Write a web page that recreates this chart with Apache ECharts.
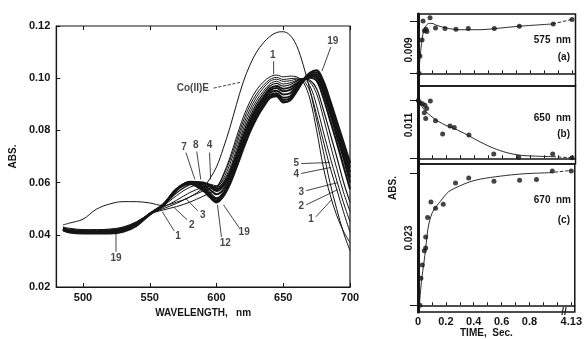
<!DOCTYPE html>
<html>
<head>
<meta charset="utf-8">
<script src="https://cdn.jsdelivr.net/npm/echarts@6/dist/echarts.min.js"></script>
<style>
  html, body { margin: 0; padding: 0; background: #fff; }
  #chart { width: 585px; height: 339px; }
</style>
</head>
<body>
<div id="chart"></div>
<script>
// wavelengths (nm) sampled for every spectrum
const WAVE = [485, 490, 500, 510, 520, 530, 540, 550, 560, 570, 580, 590, 595, 600,
  605, 610, 615, 620, 625, 630, 635, 640, 645, 650, 655, 660, 665, 670, 675, 680, 685, 690, 695, 700];

// absorbance spectra
const CO_E = [.0438, .0445, .0460, .0498, .0518, .0527, .0527, .0522, .0512, .0525, .0545, .0580, .0615, .0660,
  .0730, .0810, .0900, .0985, .1050, .1100, .1135, .1160, .1175, .1178, .1165, .1125, .1050, .0955, .0840, .0720, .0600, .0500, .0410, .0340];
const SPEC_1 = [.0430, .0425, .0420, .0420, .0422, .0430, .0450, .0480, .0495, .0508, .0525, .0548, .0560, .0578,
  .0630, .0695, .0775, .0850, .0910, .0955, .0985, .1005, .1012, .1005, .1008, .1005, .0985, .0920, .0800, .0660, .0555, .0475, .0415, .0370];
const SPEC_2 = [.0428, .0422, .0418, .0418, .0420, .0428, .0448, .0480, .0500, .0520, .0545, .0568, .0578, .0585,
  .0625, .0685, .0760, .0835, .0895, .0940, .0972, .0995, .1003, .0995, .0998, .1000, .0992, .0950, .0860, .0760, .0660, .0575, .0490, .0410];
const SPEC_3 = [.0428, .0420, .0416, .0416, .0418, .0426, .0446, .0480, .0505, .0532, .0562, .0582, .0585, .0585,
  .0615, .0670, .0745, .0820, .0880, .0928, .0962, .0988, .0996, .0988, .0990, .0996, .0996, .0970, .0895, .0795, .0700, .0610, .0525, .0450];
const SPEC_4 = [.0426, .0418, .0414, .0414, .0416, .0424, .0444, .0480, .0510, .0550, .0582, .0595, .0594, .0588,
  .0608, .0655, .0728, .0805, .0866, .0915, .0950, .0978, .0988, .0978, .0982, .0992, .0998, .0985, .0940, .0850, .0750, .0655, .0565, .0490];
const SPEC_5 = [.0425, .0417, .0413, .0413, .0415, .0423, .0443, .0480, .0512, .0560, .0592, .0598, .0592, .0582,
  .0600, .0645, .0715, .0790, .0852, .0903, .0940, .0970, .0980, .0970, .0975, .0988, .0998, .0992, .0960, .0880, .0790, .0700, .0605, .0525];
const SPEC_7 = [.0424, .0415, .0412, .0412, .0414, .0422, .0442, .0480, .0515, .0570, .0602, .0600, .0590, .0575,
  .0592, .0635, .0702, .0775, .0838, .0890, .0928, .0960, .0970, .0960, .0965, .0980, .0995, .1002, .0990, .0925, .0840, .0755, .0665, .0575];
const SPEC_8 = [.0423, .0414, .0411, .0411, .0413, .0421, .0441, .0480, .0515, .0572, .0603, .0598, .0585, .0568,
  .0585, .0627, .0693, .0765, .0828, .0880, .0918, .0952, .0962, .0950, .0955, .0975, .0995, .1008, .1000, .0945, .0865, .0780, .0695, .0600];
const SPEC_10 = [.0422, .0413, .0411, .0411, .0413, .0420, .0441, .0480, .0515, .0573, .0602, .0592, .0573, .0555,
  .0572, .0616, .0682, .0755, .0820, .0872, .0910, .0944, .0952, .0938, .0942, .0968, .0995, .1012, .1008, .0955, .0878, .0795, .0712, .0620];
const SPEC_12 = [.0420, .0412, .0410, .0410, .0412, .0418, .0440, .0480, .0515, .0575, .0600, .0585, .0560, .0540,
  .0560, .0605, .0672, .0745, .0810, .0862, .0900, .0935, .0942, .0925, .0930, .0960, .0995, .1015, .1015, .0965, .0890, .0810, .0730, .0640];
const SPEC_15 = [.0419, .0411, .0408, .0408, .0409, .0415, .0437, .0479, .0513, .0574, .0598, .0578, .0552, .0532,
  .0554, .0600, .0666, .0738, .0802, .0855, .0895, .0930, .0937, .0916, .0922, .0955, .0992, .1018, .1022, .0976, .0902, .0822, .0742, .0658];
const SPEC_19 = [.0418, .0410, .0406, .0406, .0406, .0412, .0435, .0478, .0512, .0572, .0595, .0570, .0545, .0525,
  .0548, .0595, .0660, .0730, .0795, .0848, .0890, .0925, .0932, .0908, .0915, .0950, .0990, .1020, .1030, .0988, .0915, .0835, .0755, .0675];

// right hand kinetics (time in s, change of absorbance)
const TIME_A = [0.007, 0.014, 0.029, 0.036, 0.046, 0.057, 0.064, 0.086, 0.125, 0.193, 0.271, 0.359, 0.545, 0.724, 0.966, 4.13];
const ABS_A = [0.0, 0.0030, 0.0058, 0.0091, 0.0074, 0.0077, 0.0073, 0.0097, 0.0079, 0.0078, 0.0077, 0.0078, 0.0078, 0.0082, 0.0086, 0.0094];
const FIT_A_T = [0.005, 0.015, 0.025, 0.035, 0.045, 0.06, 0.08, 0.1, 0.13, 0.2, 0.3, 0.45, 0.55, 0.72, 0.96, 4.13];
const FIT_A = [0.0, 0.0028, 0.0052, 0.0068, 0.0078, 0.0084, 0.0087, 0.0087, 0.0084, 0.0079, 0.0076, 0.0076, 0.0078, 0.0082, 0.0086, 0.0094];

const TIME_B = [0.002, 0.014, 0.031, 0.045, 0.050, 0.055, 0.062, 0.088, 0.125, 0.176, 0.229, 0.259, 0.364, 0.541, 0.719, 0.962, 4.13];
const ABS_B = [0.0109, 0.0105, 0.0103, 0.0086, 0.0100, 0.0075, 0.0094, 0.0108, 0.0071, 0.0046, 0.0061, 0.0058, 0.0044, 0.0008, 0.0002, 0.0008, 0.0001];
const FIT_B_T = [0, 0.05, 0.1, 0.15, 0.2, 0.26, 0.3, 0.36, 0.45, 0.54, 0.63, 0.72, 0.84, 0.96, 4.13];
const FIT_B = [0.0108, 0.0090, 0.0078, 0.0069, 0.0062, 0.0056, 0.0051, 0.0043, 0.0030, 0.0019, 0.0011, 0.0006, 0.0004, 0.0003, 0.0001];

const TIME_C = [0.014, 0.021, 0.031, 0.045, 0.055, 0.055, 0.069, 0.093, 0.126, 0.181, 0.269, 0.364, 0.545, 0.729, 0.85, 0.964, 4.13];
const ABS_C = [0.0, 0.0047, 0.0070, 0.0095, 0.0100, 0.0119, 0.0153, 0.0180, 0.0169, 0.0176, 0.0213, 0.0222, 0.0216, 0.0218, 0.0219, 0.0234, 0.0234];
const FIT_C_T = [0.01, 0.02, 0.03, 0.045, 0.06, 0.075, 0.1, 0.13, 0.16, 0.22, 0.3, 0.37, 0.45, 0.59, 0.75, 0.94, 4.13];
const FIT_C = [0.0, 0.0030, 0.0052, 0.0079, 0.0110, 0.0138, 0.0160, 0.0172, 0.0181, 0.0198, 0.0208, 0.0215, 0.0220, 0.0225, 0.0229, 0.0231, 0.0235];

const TIME_LABELS = ['0', '0.2', '0.4', '0.6', '0.8', '4.13'];

const INK = '#151515';
const FONT = 'Liberation Sans';
const BREAK_POS = 1.1;   // where 4.13 s sits on the broken time axis
const pos = t => (t > 2 ? BREAK_POS : t);

const chart = echarts.init(document.getElementById('chart'));

const specSeries = [
  ['Co(II)E', CO_E, 1], ['1', SPEC_1, 1], ['2', SPEC_2, 1], ['3', SPEC_3, 1], ['4', SPEC_4, 1], ['5', SPEC_5, 1.2],
  ['7', SPEC_7, 2], ['8', SPEC_8, 2], ['10', SPEC_10, 2], ['12', SPEC_12, 2], ['15', SPEC_15, 2], ['19', SPEC_19, 2.4]
].map(([name, vals, w]) => ({
  name, type: 'line', xAxisIndex: 0, yAxisIndex: 0, symbol: 'none', smooth: 0.35,
  data: WAVE.map((x, i) => [x, vals[i]]),
  lineStyle: { color: INK, width: w }, z: 3
}));

// callouts for the spectra: [text, textX, textY, fromX, fromY, toX, toY]
const CALLOUTS = [
  ['1', 642.1, .1088, 642.8, .1065, 642.8, .1015],
  ['Co(II)E', 582.3, .0962, 597.8, .0962, 618.5, .0985],
  ['7', 575.6, .0735, 577.1, .0715, 583.8, .0612],
  ['8', 584.5, .0742, 585.2, .0719, 588.2, .0612],
  ['4', 594.8, .0742, 594.8, .0715, 595.6, .0612],
  ['3', 589.7, .0473, 586.0, .0492, 576.4, .0542],
  ['2', 581.5, .0438, 577.9, .0458, 568.3, .0504],
  ['1', 571.2, .0396, 568.3, .0415, 559.4, .0488],
  ['12', 606.6, .0369, 603.7, .0392, 600.7, .0515],
  ['19', 620.7, .0408, 617.0, .0427, 605.2, .0515],
  ['19', 524.7, .0312, 524.7, .0335, 524.7, .0404],
  ['19', 687.1, .1142, 685.6, .1119, 679.0, .1027],
  ['5', 659.8, .0673, 663.5, .0673, 684.9, .0677],
  ['4', 659.8, .0631, 663.5, .0635, 685.6, .0658],
  ['3', 663.5, .0562, 667.2, .0569, 690.8, .0600],
  ['2', 663.5, .0508, 667.2, .0515, 690.8, .0573],
  ['1', 670.8, .0458, 674.5, .0469, 686.3, .0535]
];

const calloutSeries = CALLOUTS.map(c => ({
  type: 'line', xAxisIndex: 0, yAxisIndex: 0, symbol: 'none', z: 4, silent: true,
  data: [[c[3], c[4]], [c[5], c[6]]],
  lineStyle: { color: INK, width: 0.8, type: c[0] === 'Co(II)E' ? 'dashed' : 'solid' }
}));
calloutSeries.push({
  type: 'scatter', xAxisIndex: 0, yAxisIndex: 0, symbolSize: 1, z: 5, silent: true,
  itemStyle: { color: 'rgba(0,0,0,0)' },
  data: CALLOUTS.map(c => ({ name: c[0], value: [c[1], c[2]] })),
  label: { show: true, position: 'inside', formatter: '{b}', color: INK,
    fontFamily: FONT, fontWeight: 'bold', fontSize: 10 }
});

// kinetic panels
const panels = [
  { t: TIME_A, a: ABS_A, ft: FIT_A_T, f: FIT_A, top: 14, h: 72, min: -0.00221, max: 0.01034, bar: 0.009, name: '0.009' },
  { t: TIME_B, a: ABS_B, ft: FIT_B_T, f: FIT_B, top: 86, h: 78, min: -0.00108, max: 0.01364, bar: 0.011, name: '0.011' },
  { t: TIME_C, a: ABS_C, ft: FIT_C_T, f: FIT_C, top: 164, h: 148, min: -0.00117, max: 0.02462, bar: 0.023, name: '0.023' }
];

const grids = [{ left: 53, top: 26, width: 297, height: 261, show: true, borderColor: INK, borderWidth: 1.2 }];
const xAxes = [
  {
    type: 'value', gridIndex: 0, min: 480, max: 700,
    axisLine: { lineStyle: { color: INK, width: 1.2 } },
    axisTick: { inside: true, length: 4, customValues: [500, 550, 600, 650, 700], lineStyle: { color: INK } },
    axisLabel: { customValues: [500, 550, 600, 650, 700], color: INK, fontFamily: FONT, fontWeight: 'bold', fontSize: 11, margin: 5 },
    splitLine: { show: false },
    name: 'WAVELENGTH,   nm', nameLocation: 'middle', nameGap: 21,
    nameTextStyle: { color: INK, fontFamily: FONT, fontWeight: 'bold', fontSize: 10 }
  },
  {
    type: 'value', gridIndex: 0, position: 'top', min: 480, max: 700,
    axisLine: { show: false },
    axisTick: { inside: true, length: 4, customValues: [500, 550, 600, 650, 700], lineStyle: { color: INK } },
    axisLabel: { show: false }, splitLine: { show: false }
  }
];
const yAxes = [{
  type: 'value', gridIndex: 0, min: 0.02, max: 0.12, interval: 0.02,
  axisLine: { show: true, lineStyle: { color: INK, width: 1.2 } },
  axisTick: { inside: true, length: 4, lineStyle: { color: INK } },
  axisLabel: { formatter: v => v.toFixed(2), color: INK, fontFamily: FONT, fontWeight: 'bold', fontSize: 11, margin: 6 },
  splitLine: { show: false },
  name: 'ABS.', nameLocation: 'middle', nameGap: 33, nameRotate: 90,
  nameTextStyle: { color: INK, fontFamily: FONT, fontWeight: 'bold', fontSize: 10 }
}];
const panelSeries = [];

const tickPos = [0, 0.1, 0.2, 0.3, 0.4, 0.5, 0.6, 0.7, 0.8, 0.9, 1.0, BREAK_POS];
const labelPos = [0, 0.2, 0.4, 0.6, 0.8, BREAK_POS];

panels.forEach((p, k) => {
  const gi = k + 1;          // grid index
  const xi = xAxes.length;   // x axis index (grid 0 owns two x axes)
  const yi = yAxes.length;
  const last = k === panels.length - 1;
  grids.push({ left: 418, top: p.top, width: 157.5, height: p.h, show: true, borderColor: INK, borderWidth: 1.5 });
  xAxes.push({
    type: 'value', gridIndex: gi, min: 0, max: 1.125,
    axisLine: { lineStyle: { color: INK, width: 1.5 } },
    axisTick: { inside: true, length: 3, customValues: tickPos, lineStyle: { color: INK } },
    axisLabel: {
      show: last, customValues: labelPos, color: INK, fontFamily: FONT, fontWeight: 'bold', fontSize: 11, margin: 4,
      formatter: v => TIME_LABELS[labelPos.indexOf(v)]
    },
    splitLine: { show: false },
    name: last ? 'TIME,  Sec.' : '', nameLocation: 'middle', nameGap: 15,
    nameTextStyle: { color: INK, fontFamily: FONT, fontWeight: 'bold', fontSize: 10, padding: [0, 20, 0, 0] }
  });
  yAxes.push({
    type: 'value', gridIndex: gi, min: p.min, max: p.max,
    axisLine: { show: true, lineStyle: { color: INK, width: 3 } },
    axisTick: { show: true, length: 8, customValues: [0, p.bar], lineStyle: { color: INK } },
    axisLabel: { show: false }, splitLine: { show: false },
    name: p.name, nameLocation: 'middle', nameGap: 4, nameRotate: 90,
    nameTextStyle: { color: INK, fontFamily: FONT, fontWeight: 'bold', fontSize: 10,
      backgroundColor: '#fff', padding: [0, 2] }
  });
  const nSolid = p.ft.filter(t => t < 2).length;
  panelSeries.push(
    { // scale bar
      type: 'line', xAxisIndex: xi, yAxisIndex: yi, symbol: 'none', clip: false, z: 1, silent: true,
      data: [[-0.057, 0], [-0.057, p.bar]], lineStyle: { color: INK, width: 1 }
    },
    {
      type: 'line', xAxisIndex: xi, yAxisIndex: yi, symbol: 'none', smooth: 0.3,
      data: p.ft.slice(0, nSolid).map((t, i) => [pos(t), p.f[i]]), lineStyle: { color: INK, width: 0.9 }
    },
    {
      type: 'line', xAxisIndex: xi, yAxisIndex: yi, symbol: 'none',
      data: p.ft.slice(nSolid - 1).map((t, i) => [pos(t), p.f[nSolid - 1 + i]]),
      lineStyle: { color: INK, width: 0.9, type: 'dashed' }
    },
    {
      type: 'scatter', xAxisIndex: xi, yAxisIndex: yi, symbolSize: 5, clip: false, z: 4,
      data: p.t.map((t, i) => [pos(t), p.a[i]]), itemStyle: { color: INK }
    }
  );
});

const txt = (text, x, y, extra) => ({
  type: 'text', x, y, silent: true,
  style: Object.assign({ text, fill: INK, font: 'bold 10px "Liberation Sans"', align: 'right', verticalAlign: 'middle' }, extra || {})
});

chart.setOption({
  animation: false,
  backgroundColor: '#fff',
  grid: grids,
  xAxis: xAxes,
  yAxis: yAxes,
  series: specSeries.concat(calloutSeries, panelSeries),
  graphic: [
    txt('575  nm', 571, 40), txt('(a)', 570, 57),
    txt('650  nm', 571, 118), txt('(b)', 570, 134),
    txt('670  nm', 571, 200), txt('(c)', 570, 220),
    txt('//', 564, 312, { align: 'center' }),
    { type: 'text', x: 393, y: 188, rotation: Math.PI / 2, silent: true,
      style: { text: 'ABS.', fill: INK, font: 'bold 10px "Liberation Sans"', align: 'center', verticalAlign: 'middle' } }
  ]
});
</script>
</body>
</html>
